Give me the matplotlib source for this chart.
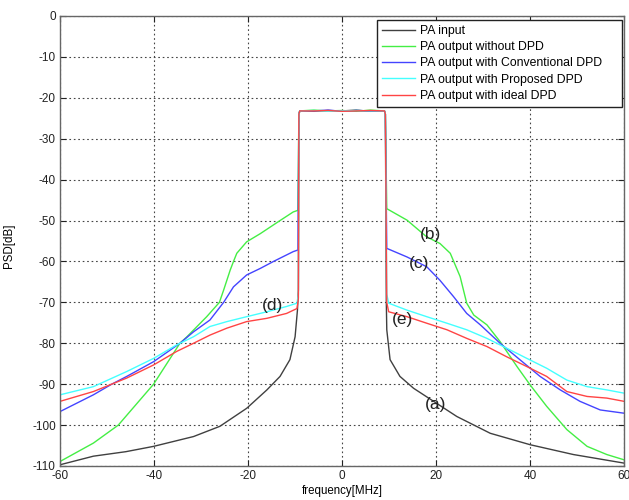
import matplotlib
matplotlib.use("Agg")
import matplotlib.pyplot as plt

plt.rcParams['font.family'] = ['Liberation Sans', 'DejaVu Sans']
plt.rcParams['axes.unicode_minus'] = False

# ---- data ----
black_f = [-60, -52.9, -46, -40.1, -31.6, -26, -20.3, -16, -13.2, -11.1, -10, -9.5, -9.3, -9.2, -9.0,
           -6, -3, 0, 3, 6, 9.0, 9.2, 9.4, 9.5, 10.2, 12.3, 15.2, 20, 24.4, 31.5, 40, 49.2, 60]
black_p = [-109.7, -107.6, -106.5, -105.2, -102.8, -100.3, -95.9, -91.4, -88.1, -84, -78.4, -71.9, -67, -24, -23.2,
           -23.3, -23.1, -23.2, -23.0, -23.3, -23.2, -24, -70, -76.7, -84, -88.1, -91, -94.6, -97.9, -102, -104.8, -107.2, -109.3]

green_f = [-60, -52.9, -47.6, -40.1, -34.5, -33, -28.8, -26.1, -25.2, -23.8, -23.1, -22.4, -20.3, -17.4, -13.2, -10.4, -9.4, -9.2, -9.0,
           -6, -3, 0, 3, 6, 9.0, 9.2, 9.5, 13.8, 18, 20.8, 23, 25.1, 26.5, 28, 30.8, 33.6, 37.2, 40, 43.5, 47.8, 52.1, 56.3, 60]
green_p = [-108.9, -104.4, -100, -90, -80, -78.4, -73.5, -70, -67, -62.1, -60, -58, -55.2, -53.2, -50, -47.9, -47.5, -24, -23.2,
           -23.0, -23.2, -23.1, -23.3, -23.0, -23.2, -24, -47.1, -49.9, -54, -55.6, -58, -63.7, -70.2, -73.1, -75.5, -79.6, -85.7, -90.2, -95.4, -101.1, -105.2, -107.2, -108.5]

blue_f = [-60, -52.9, -49, -45.8, -40.1, -34.5, -31.6, -28.1, -25.2, -23.1, -20.3, -17.4, -14.6, -10.4, -9.4, -9.2, -9.0,
          -6, -3, 0, 3, 6, 9.0, 9.2, 9.5, 13.8, 18, 20.8, 23.7, 26.5, 29.4, 33.6, 37.9, 42.1, 46.4, 50.6, 54.9, 60]
blue_p = [-96.7, -92.6, -90, -88.1, -84.5, -80, -77.2, -74.3, -70, -66.2, -63.3, -61.7, -60, -57.6, -57.2, -24, -23.2,
          -23.2, -23.0, -23.3, -23.1, -23.2, -23.2, -24, -56.8, -58.9, -61.3, -64.6, -68.6, -72.7, -75.5, -80, -84.1, -88.1, -91.4, -94.2, -96.3, -97.1]

cyan_f = [-60, -52.9, -45.8, -40.1, -35.2, -31.6, -28.1, -24.5, -20.3, -16, -11.8, -9.6, -9.3, -9.2, -9.0,
          -6, -3, 0, 3, 6, 9.0, 9.2, 9.5, 9.9, 13.8, 18, 22.3, 26.5, 30.8, 35, 39.3, 43.5, 47.8, 52.1, 56.3, 60]
cyan_p = [-92.6, -90.6, -86.9, -83.7, -80.4, -78.4, -75.9, -74.7, -73.5, -72.3, -71, -70.2, -68, -24, -23.2,
          -23.1, -23.3, -23.2, -23.1, -23.2, -23.2, -24, -68, -70.2, -71.9, -73.5, -75.1, -76.7, -78.8, -81.2, -83.7, -86.1, -89, -90.6, -91.4, -92.2]

red_f = [-60, -52.9, -45.8, -40.1, -35.2, -31.6, -28.1, -24.5, -20.3, -16, -11.8, -9.6, -9.3, -9.2, -9.0,
         -6, -3, 0, 3, 6, 9.0, 9.2, 9.5, 9.9, 13.8, 18, 22.3, 26.5, 30.8, 35, 39.3, 43.5, 47.8, 52.1, 56.3, 60]
red_p = [-94.2, -91.8, -88.5, -85.3, -82, -80, -78, -76.3, -74.7, -73.9, -72.7, -71.5, -69, -24, -23.2,
         -23.2, -23.1, -23.3, -23.2, -23.1, -23.2, -24, -70, -72.3, -73.5, -75.1, -76.7, -78.8, -80.8, -83.3, -85.7, -88.1, -91.8, -93, -93.4, -94.2]

series_names = ["PA input", "PA output without DPD", "PA output with Conventional DPD",
                "PA output with Proposed DPD", "PA output with ideal DPD"]
series_colors = ["#404040", "#44ee44", "#4444ff", "#44ffff", "#ff4444"]

labels = ["(a)", "(b)", "(c)", "(d)", "(e)"]
label_f = [19.8, 18.9, 16.4, -14.9, 12.8]
label_p = [-95.0, -53.5, -60.6, -70.7, -74.3]

x_ticks = [-60, -40, -20, 0, 20, 40, 60]
y_ticks = [0, -10, -20, -30, -40, -50, -60, -70, -80, -90, -100, -110]

# ---- plot ----
fig = plt.figure(figsize=(6.29, 5.0), dpi=100)
ax = fig.add_axes([0.0954, 0.068, 0.897, 0.900])

data = [(black_f, black_p), (green_f, green_p), (blue_f, blue_p), (cyan_f, cyan_p), (red_f, red_p)]
for (f, p), name, col in zip(data, series_names, series_colors):
    ax.plot(f, p, color=col, lw=1.0, label=name)

for t, fx, py in zip(labels, label_f, label_p):
    ax.text(fx, py, t, fontsize=12.5, color="#222222", ha="center", va="center")

ax.set_xlim(-60, 60)
ax.set_ylim(-110, 0)
ax.set_xticks(x_ticks)
ax.set_yticks(y_ticks)
ax.grid(True, linestyle=(0, (1.5, 2.5)), color="#444444", lw=0.8)
ax.tick_params(direction="in", top=True, right=True, labelsize=8.5, colors="#222222",
               length=4, pad=3)
for s in ax.spines.values():
    s.set_color("#666666")
    s.set_linewidth(1.0)
ax.set_xlabel("frequency[MHz]", fontsize=8.3)
ax.set_ylabel("PSD[dB]", fontsize=8.3)
ax.xaxis.set_label_coords(0.5, -0.042)
ax.yaxis.set_label_coords(-0.08, 0.49)

leg = ax.legend(loc="upper left", bbox_to_anchor=(0.562, 0.0, 0.4345, 0.991), mode="expand",
                fontsize=8.8, frameon=True, fancybox=False,
                edgecolor="#222222", borderaxespad=0.0, handlelength=2.7,
                labelspacing=0.35, borderpad=0.4, handletextpad=0.4)
leg.get_frame().set_linewidth(1.0)
leg.get_frame().set_alpha(1.0)

fig.savefig("out.png", dpi=100)
